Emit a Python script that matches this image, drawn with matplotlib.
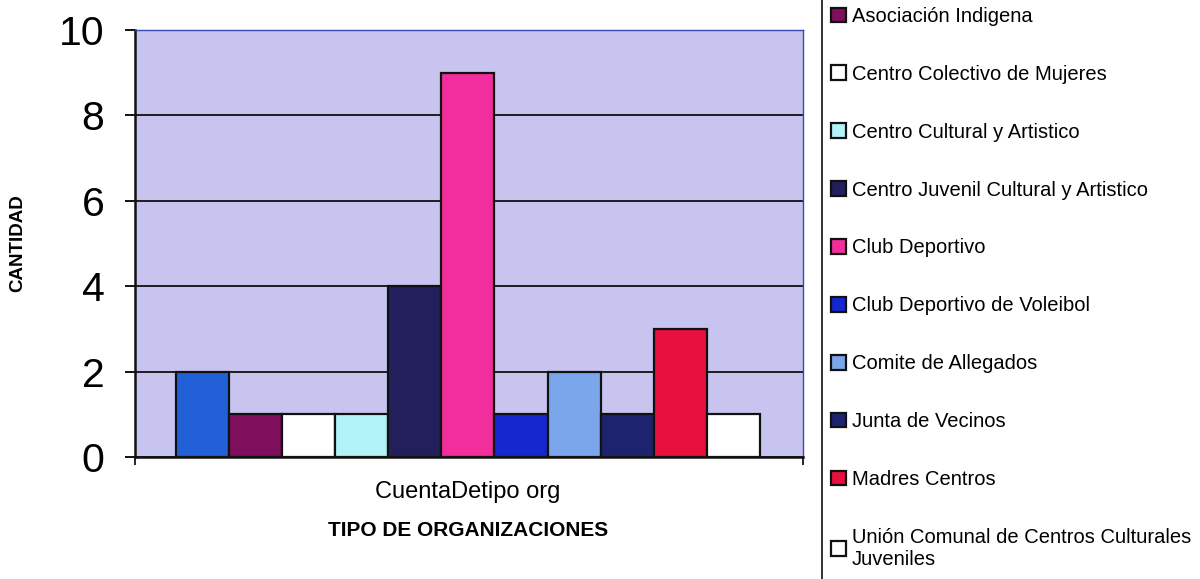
import matplotlib
matplotlib.use("Agg")
import matplotlib.pyplot as plt
from matplotlib.lines import Line2D

plt.rcParams['font.family'] = ['Liberation Sans', 'DejaVu Sans']

categories = ["", "Asociación Indigena", "Centro Colectivo de Mujeres",
              "Centro Cultural y Artistico", "Centro Juvenil Cultural y Artistico",
              "Club Deportivo", "Club Deportivo de Voleibol", "Comite de Allegados",
              "Junta de Vecinos", "Madres Centros",
              "Unión Comunal de Centros Culturales\nJuveniles"]
values = [2, 1, 1, 1, 4, 9, 1, 2, 1, 3, 1]
colors = ["#2160d6", "#7e0f5c", "#ffffff", "#b2f3f8", "#221f5c", "#f22e9c",
          "#1528d0", "#7ca6ec", "#1e2370", "#e8103c", "#ffffff"]
group_label = "CuentaDetipo org"
yticks = [0, 2, 4, 6, 8, 10]

fig = plt.figure(figsize=(12, 5.79), dpi=100)
ax = fig.add_axes([135/1200, 1-457/579, (803-135)/1200, (457-30)/579])
ax.set_facecolor("#c8c4f0")

x = list(range(len(values)))
bars = []
for xi, v, c, lab in zip(x, values, colors, categories):
    b = ax.bar(xi, v, width=1.0, color=c, edgecolor="#111111", linewidth=1.6,
               label=lab if lab else "_nolegend_", zorder=3)
    bars.append(b)

ax.set_xlim(-1.27, len(values) - 1 + 0.5 + 0.81)
ax.set_ylim(0, 10)
ax.set_yticks(yticks)
ax.set_yticklabels([str(t) for t in yticks], fontsize=29.5)
ax.yaxis.grid(True, color="#111111", linewidth=1.3, zorder=1)
ax.set_axisbelow(True)

ax.set_xticks([(len(values) - 1) / 2])
ax.set_xticklabels([group_label], fontsize=17)
ax.tick_params(axis='x', length=0, pad=17)
ax.set_xticks([ax.get_xlim()[0], ax.get_xlim()[1]], minor=True)
ax.tick_params(axis='x', which='minor', length=6, width=1.2, direction='out')
ax.tick_params(axis='y', length=7, width=1.3, direction='out', pad=15)

for s in ["left", "bottom"]:
    ax.spines[s].set_color("#111111")
    ax.spines[s].set_linewidth(1.8)
for s in ["top", "right"]:
    ax.spines[s].set_color("#3848b0")
    ax.spines[s].set_linewidth(1.0)

fig.text(468/1200, 1-530/579, "TIPO DE ORGANIZACIONES", ha='center', va='center',
         fontsize=15, fontweight='bold')
fig.text(18/1200, 1-243/579, "CANTIDAD", ha='center', va='center', rotation=90,
         fontsize=13.5, fontweight='bold')

handles = [b.patches[0] for b, lab in zip(bars, categories) if lab]
labels = [lab for lab in categories if lab]
fig.legend(handles, labels, loc='upper left', bbox_to_anchor=(831/1200, 1 - 7/579),
           frameon=False, fontsize=14.5, handlelength=0.75, handleheight=0.75,
           handletextpad=0.3, labelspacing=1.93, borderpad=0, borderaxespad=0)

fig.add_artist(Line2D([822/1200, 822/1200], [0, 1], color="#111111", linewidth=1.2,
                      transform=fig.transFigure))

fig.savefig("out.png", dpi=100)
